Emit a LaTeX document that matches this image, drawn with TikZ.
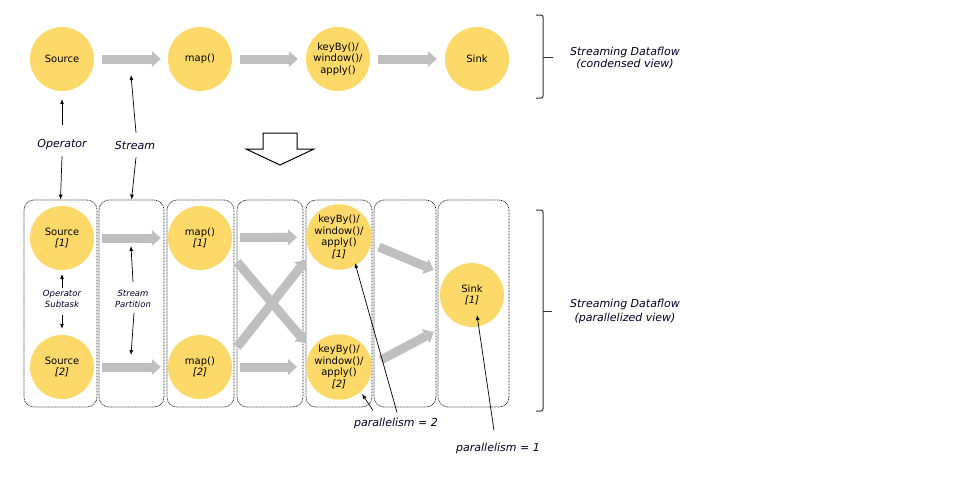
\documentclass[tikz,border=0pt]{standalone}
\usepackage{fontspec}
\setmainfont{DejaVu Sans}
\usetikzlibrary{arrows.meta}
\definecolor{opyellow}{RGB}{253,217,106}
\definecolor{flowgray}{RGB}{191,191,191}
\definecolor{labelblue}{RGB}{0,0,40}
\begin{document}
\begin{tikzpicture}[x=1pt,y=-1pt,
 opc/.style={circle, fill=opyellow, minimum size=64pt, inner sep=0pt, align=center, font=\fontsize{10}{11.5}\selectfont},
 garrow/.style={draw=flowgray, line width=9pt, -{Triangle[length=9pt,width=16pt,line width=0pt]}, shorten <=8pt, shorten >=7pt},
 barrow/.style={draw=black, line width=0.7pt, -{Latex[length=5pt,width=4pt]}},
 lbl/.style={font=\fontsize{11}{12}\selectfont\itshape, text=labelblue, align=center, inner sep=0pt},
 slbl/.style={font=\fontsize{8.5}{11}\selectfont\itshape, text=labelblue, align=center, inner sep=0pt},
 pbox/.style={draw=black!90, line width=0.75pt, dash pattern=on 0.75pt off 0.75pt, rounded corners=10pt, minimum height=207pt, inner sep=0pt},
 bracestyle/.style={draw=black!80, line width=1pt, rounded corners=2pt},
]
\path[use as bounding box, fill=white] (0,0) rectangle (980,485);

% parallel boxes
\node[pbox, minimum width=73pt] (b1) at (60.5,303.5) {};
\node[pbox, minimum width=65pt] (b2) at (131.5,303.5) {};
\node[pbox, minimum width=67pt] (b3) at (200.5,303.5) {};
\node[pbox, minimum width=66pt] (b4) at (270,303.5) {};
\node[pbox, minimum width=66pt] (b5) at (339,303.5) {};
\node[pbox, minimum width=62pt] (b6) at (405,303.5) {};
\node[pbox, minimum width=71pt] (b7) at (473.5,303.5) {};

% top operators
\node[opc] (src) at (62,59) {Source};
\node[opc] (map) at (200,59) {map()};
\node[opc] (kb) at (338,59) {keyBy()/\\window()/\\apply()};
\node[opc] (snk) at (477,59) {Sink};

% bottom operators
\node[opc] (s1) at (62,238) {Source\\\textit{[1]}};
\node[opc] (s2) at (62,367) {Source\\\textit{[2]}};
\node[opc] (m1) at (200,238) {map()\\\textit{[1]}};
\node[opc] (m2) at (200,367) {map()\\\textit{[2]}};
\node[opc] (k1) at (339,237) {keyBy()/\\window()/\\apply()\\\textit{[1]}};
\node[opc] (k2) at (339,367) {keyBy()/\\window()/\\apply()\\\textit{[2]}};
\node[opc] (sk) at (472,295) {Sink\\\textit{[1]}};

% top streams
\draw[garrow] (src) -- coordinate (gA) (map);
\draw[garrow, shorten >=8pt] (map) -- (kb);
\draw[garrow, shorten >=8pt] (kb) -- (snk);

% bottom streams
\draw[garrow] (s1) -- coordinate (gB) (m1);
\draw[garrow] (s2) -- coordinate (gC) (m2);
\draw[garrow, shorten >=9pt] (m1) -- (k1);
\draw[garrow, shorten >=9pt] (m2) -- (k2);
\draw[garrow, shorten <=0pt, shorten >=0pt] ([shift={(5,24)}]m1.east) -- ([shift={(0,-24)}]k2.west);
\draw[garrow, shorten <=0pt, shorten >=0pt] ([shift={(5,-20)}]m2.east) -- ([shift={(0,23)}]k1.west);
\draw[garrow, shorten <=0pt, shorten >=0pt] ([shift={(7,10)}]k1.east) -- ([shift={(-6,-25)}]sk.west);
\draw[garrow, shorten <=0pt, shorten >=0pt] ([shift={(9,-7)}]k2.east) -- ([shift={(-6,37)}]sk.west);

% labels
\node[lbl] (opl) at (62,145) {Operator};
\node[lbl] (stl) at (135,145) {Stream};
\node[slbl] (osl) at (62,299) {Operator\\Subtask};
\node[slbl] (spl) at (133,299) {Stream\\Partition};
\node[lbl] (p2) at (396,423) {parallelism = 2};
\node[lbl] (p1) at (498,448) {parallelism = 1};

\draw[barrow] ([yshift=15pt]opl.north) -- ([yshift=-8pt]src.south);
\draw[barrow] ([yshift=-6pt]opl.south) -- (b1.north);
\draw[barrow] ([xshift=1pt,yshift=8pt]stl.north) -- ([yshift=-16pt]gA);
\draw[barrow] ([xshift=1pt,yshift=-8pt]stl.south) -- (b2.north);
\draw[barrow] ([yshift=2.5pt]osl.north) -- ([yshift=-4pt]s1.south);
\draw[barrow] ([yshift=-7pt]osl.south) -- ([yshift=6pt]s2.north);
\draw[barrow] ([yshift=8pt]spl.north) -- ([yshift=-8pt]gB);
\draw[barrow] ([xshift=1pt,yshift=-5pt]spl.south) -- ([yshift=12pt]gC);
\draw[barrow] ([xshift=1pt,yshift=5pt]p2.north) -- ([shift={(16,26)}]k1.center);
\draw[barrow] ([xshift=-23pt,yshift=7pt]p2.north) -- ([shift={(23,27)}]k2.center);
\draw[barrow] ([xshift=-4pt,yshift=12pt]p1.north) -- ([shift={(5,20)}]sk.center);

% transformation arrow
\draw[line width=1pt] (263,133) -- (297,133) -- (297,149) -- (314,149) -- (280,165) -- (246,149) -- (263,149) -- cycle;

% braces
\draw[bracestyle] (536,15) -- (543,15) -- (543,98) -- (536,98);
\draw[bracestyle] (543,57) -- (553,57);
\draw[bracestyle] (536,210) -- (543,210) -- (543,411) -- (536,411);
\draw[bracestyle] (543,311) -- (552,311);
\node[lbl] (t1) at (625,58) {Streaming Dataflow\\(condensed view)};
\node[lbl, font=\fontsize{11}{14}\selectfont\itshape] (t2) at (625,311) {Streaming Dataflow\\(parallelized view)};
\end{tikzpicture}
\end{document}
